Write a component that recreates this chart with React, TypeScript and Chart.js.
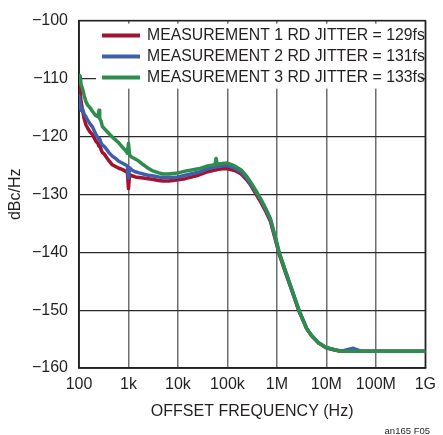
import { useEffect, useRef } from 'react';
import { Chart, registerables } from 'chart.js';

Chart.register(...registerables);

// Offset frequency (Hz)
const frequencies = [
  100, 105, 110, 118, 128, 138, 150, 166, 188, 218,
  240, 254, 262, 280, 297, 320, 345, 402, 470, 547,
  636, 745, 862, 950, 1000, 1050, 1170, 1370, 1640, 2000,
  2500, 3000, 4100, 5000, 6500, 8000, 10000, 14000, 26000, 40000,
  56000, 59000, 62000, 80000, 100000, 140000, 190000, 250000, 295000, 380000,
  470000, 600000, 740000, 1e6, 1.1e6, 1.5e6, 2e6, 2.77e6, 4e6, 5e6,
  7e6, 1e7, 1.5e7, 2e7, 3.5e7, 5e7, 1e8, 1e9,
];

// dBc/Hz
const measurement1 = [
  -109.5, -112, -114, -115.5, -117, -118, -118.6, -119.2, -119.7, -120.8,
  -121.2, -121.7, -121.5, -122.3, -122.8, -123, -123.4, -124.2, -124.9, -125.2,
  -125.5, -125.7, -126, -126.2, -129, -126.6, -126.8, -127, -127.1, -127.2,
  -127.3, -127.4, -127.6, -127.7, -127.7, -127.6, -127.5, -127.3, -126.7, -126.1,
  -125.8, -125.8, -125.7, -125.6, -125.6, -125.9, -126.5, -127.6, -128.4, -130,
  -131.3, -133, -134.7, -138.8, -140.2, -143.6, -146.6, -150.1, -153.2, -154.4,
  -155.7, -156.5, -156.9, -157.1, -157.1, -157.1, -157.1, -157.1,
];
const measurement2 = [
  -113, -114, -115.5, -115.3, -116.2, -116.6, -117.2, -117.8, -118.4, -119.6,
  -120.2, -120.6, -120.4, -121.2, -121.5, -121.7, -122, -122.8, -123.4, -123.8,
  -124.3, -124.6, -124.9, -125.1, -127.2, -125.4, -125.8, -126.1, -126.3, -126.5,
  -126.7, -126.8, -127, -127.1, -127.1, -127.1, -127, -126.7, -126.2, -125.6,
  -125.3, -125.3, -125.2, -125.1, -125, -125.5, -126.2, -127.3, -128.2, -129.7,
  -130.9, -132.7, -134.4, -138.6, -140, -143.4, -146.5, -150, -153.2, -154.4,
  -155.7, -156.5, -156.9, -157.1, -156.6, -157.1, -157.1, -157.1,
];
const measurement3 = [
  -110.2, -109.5, -111, -111.8, -113, -114, -114.6, -115, -115.7, -116.4,
  -116.6, -115.5, -116.9, -117.4, -118.3, -118.6, -118.9, -119.5, -120.1, -120.6,
  -121.1, -121.8, -122.4, -122.9, -121.2, -123.2, -123.6, -123.9, -124.3, -124.9,
  -125.5, -125.9, -126.3, -126.5, -126.5, -126.4, -126.3, -126, -125.6, -125.1,
  -124.9, -123.8, -124.8, -124.7, -124.6, -125.1, -125.8, -127, -127.9, -129.4,
  -130.8, -132.5, -134.2, -138.4, -139.9, -143.3, -146.4, -149.9, -153.2, -154.4,
  -155.7, -156.5, -156.9, -157.1, -157.1, -157.1, -157.1, -157.1,
];

const seriesLabels = [
  'MEASUREMENT 1 RD JITTER = 129fs',
  'MEASUREMENT 2 RD JITTER = 131fs',
  'MEASUREMENT 3 RD JITTER = 133fs',
];
const seriesColors = ['#a3122f', '#3f5eab', '#2e8c4d'];

const xTickValues = [1e2, 1e3, 1e4, 1e5, 1e6, 1e7, 1e8, 1e9];
const xTickLabels = ['100', '1k', '10k', '100k', '1M', '10M', '100M', '1G'];
const yTickValues = [-160, -150, -140, -130, -120, -110, -100];

const xAxisTitle = 'OFFSET FREQUENCY (Hz)';
const yAxisTitle = 'dBc/Hz';
const footnote = 'an165 F05';

const FONT = "'Liberation Sans', Arial, sans-serif";
const TEXT_COLOR = '#231f20';

const legendPlugin = {
  id: 'boxLegend',
  beforeDatasetsDraw(chart: any) {
    const { ctx, chartArea } = chart;
    const { left, top, right, bottom } = chartArea;
    ctx.save();
    ctx.fillStyle = '#ffffff';
    ctx.fillRect(left + 17, top + 3, right - left - 21, 65);
    ctx.strokeStyle = '#222222';
    ctx.lineWidth = 1.5;
    ctx.strokeRect(left, top, right - left, bottom - top);
    ctx.restore();
  },
  afterDraw(chart: any) {
    const { ctx, chartArea } = chart;
    const { left, top } = chartArea;
    ctx.save();
    const rows = [15, 36, 57];
    seriesLabels.forEach((label, i) => {
      const y = top + rows[i];
      ctx.strokeStyle = seriesColors[i];
      ctx.lineWidth = 4;
      ctx.beginPath();
      ctx.moveTo(left + 23, y);
      ctx.lineTo(left + 61, y);
      ctx.stroke();
      ctx.fillStyle = TEXT_COLOR;
      ctx.font = `15.8px ${FONT}`;
      ctx.textBaseline = 'middle';
      ctx.textAlign = 'left';
      ctx.fillText(label, left + 68, y + 0.5);
    });
    ctx.font = `9.5px ${FONT}`;
    ctx.textAlign = 'right';
    ctx.textBaseline = 'middle';
    ctx.fillText(footnote, 430, 431);
    ctx.restore();
  },
};

export default function App() {
  const canvasRef = useRef<HTMLCanvasElement | null>(null);

  useEffect(() => {
    if (!canvasRef.current) return;
    const series = [measurement1, measurement2, measurement3];
    const chart = new Chart(canvasRef.current, {
      type: 'line',
      data: {
        datasets: series.map((values, i) => ({
          label: seriesLabels[i],
          data: frequencies.map((f, j) => ({ x: f, y: values[j] })),
          borderColor: seriesColors[i],
          backgroundColor: seriesColors[i],
          borderWidth: 3.5,
          borderJoinStyle: 'round',
          borderCapStyle: 'round',
          pointRadius: 0,
          tension: 0,
          fill: false,
          order: 3 - i,
        })),
      },
      options: {
        animation: false,
        responsive: false,
        events: [],
        layout: { padding: { top: 17, right: 12, left: 0, bottom: 0 } },
        plugins: {
          legend: { display: false },
          tooltip: { enabled: false },
        },
        scales: {
          x: {
            type: 'logarithmic',
            min: 100,
            max: 1e9,
            afterBuildTicks: (scale: any) => {
              scale.ticks = xTickValues.map((v) => ({ value: v }));
            },
            afterFit: (scale: any) => {
              scale.height = 67;
            },
            ticks: {
              autoSkip: false,
              maxRotation: 0,
              padding: 7,
              color: TEXT_COLOR,
              font: { family: FONT, size: 16 },
              callback: (_v: any, index: number) => xTickLabels[index],
            },
            grid: { color: '#6f6f6f', lineWidth: 1.5, drawTicks: false },
            border: { color: '#222222', width: 1.5 },
            title: {
              display: true,
              text: xAxisTitle,
              color: TEXT_COLOR,
              font: { family: FONT, size: 16 },
              padding: { top: 0, bottom: 13.4 },
            },
          },
          y: {
            type: 'linear',
            min: -160,
            max: -100,
            afterBuildTicks: (scale: any) => {
              scale.ticks = yTickValues.map((v) => ({ value: v }));
            },
            afterFit: (scale: any) => {
              scale.width = 79;
            },
            ticks: {
              padding: 11,
              color: TEXT_COLOR,
              font: { family: FONT, size: 16 },
              callback: (v: any) => (Number(v) < 0 ? '\u2212' + Math.abs(Number(v)) : String(v)),
            },
            grid: { color: '#2a2a2a', lineWidth: 1.2, drawTicks: false },
            border: { color: '#222222', width: 1.5 },
            title: {
              display: true,
              text: yAxisTitle,
              color: TEXT_COLOR,
              font: { family: FONT, size: 16 },
              padding: { top: 6, bottom: 0 },
            },
          },
        },
      },
      plugins: [legendPlugin],
    } as any);
    return () => chart.destroy();
  }, []);

  return (
    <div style={{ position: 'fixed', left: 0, top: 0, width: 443, height: 435, background: '#fff' }}>
      <canvas ref={canvasRef} width={443} height={435} style={{ display: 'block' }} />
    </div>
  );
}
